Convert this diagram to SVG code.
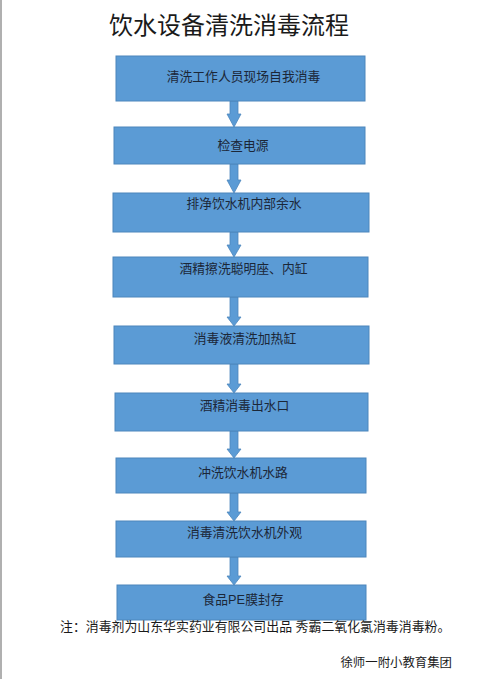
<svg xmlns="http://www.w3.org/2000/svg" width="500" height="679" viewBox="0 0 500 679">
<style>
.box{fill:#5B9BD5;stroke:#4C86BC;stroke-width:1}
.lbl{font-family:"Liberation Sans","Noto Sans CJK SC",sans-serif;font-size:12.8px;fill:#1B2738;text-anchor:middle;dominant-baseline:central}
.arr{fill:#5B9BD5;stroke:#4C86BC;stroke-width:0.8}
.note{font-family:"Liberation Sans","Noto Sans CJK SC",sans-serif;font-size:12.4px;fill:#1a1a1a}
</style>
<rect width="500" height="679" fill="#ffffff"/>
<line x1="1" y1="0" x2="1" y2="679" stroke="#b0b0b0" stroke-width="2"/>
<text x="229" y="23" font-family="'Noto Sans CJK SC',sans-serif" font-size="24" fill="#1a1a1a" text-anchor="middle" dominant-baseline="central">饮水设备清洗消毒流程</text>
<g id="connectors">
<path class="arr" d="M230,101 H238 V114 H241 L234,127 L227,114 H230 Z"/>
<path class="arr" d="M230,164 H238 V180 H241 L234,193 L227,180 H230 Z"/>
<path class="arr" d="M230,232 H238 V245 H241 L234,257 L227,245 H230 Z"/>
<path class="arr" d="M230,297 H238 V317 H241 L234,326 L227,317 H230 Z"/>
<path class="arr" d="M230,364 H238 V384 H241 L234,393 L227,384 H230 Z"/>
<path class="arr" d="M230,431 H238 V449 H241 L234,458 L227,449 H230 Z"/>
<path class="arr" d="M230,493 H238 V512 H241 L234,521 L227,512 H230 Z"/>
<path class="arr" d="M230,557 H238 V576 H241 L234,585 L227,576 H230 Z"/>
</g>
<g id="n1"><rect class="box" x="116" y="56" width="249" height="45"/><text class="lbl" x="243.5" y="76">清洗工作人员现场自我消毒</text></g>
<g id="n2"><rect class="box" x="114" y="127" width="251" height="37"/><text class="lbl" x="243" y="145">检查电源</text></g>
<g id="n3"><rect class="box" x="113" y="193" width="256" height="39"/><text class="lbl" x="244" y="203">排净饮水机内部余水</text></g>
<g id="n4"><rect class="box" x="113" y="257" width="255" height="40"/><text class="lbl" x="243.5" y="268">酒精擦洗聪明座、内缸</text></g>
<g id="n5"><rect class="box" x="114" y="326" width="255" height="38"/><text class="lbl" x="245" y="338">消毒液清洗加热缸</text></g>
<g id="n6"><rect class="box" x="115" y="393" width="253" height="38"/><text class="lbl" x="244.5" y="405">酒精消毒出水口</text></g>
<g id="n7"><rect class="box" x="116" y="458" width="250" height="35"/><text class="lbl" x="243" y="472">冲洗饮水机水路</text></g>
<g id="n8"><rect class="box" x="116" y="521" width="250" height="36"/><text class="lbl" x="244.5" y="532">消毒清洗饮水机外观</text></g>
<g id="n9"><rect class="box" x="117" y="585" width="249" height="35"/><text class="lbl" x="243" y="599">食品PE膜封存</text></g>
<text class="note" x="60" y="626" font-size="12.9" style="font-size:12.9px" dominant-baseline="central">注：消毒剂为山东华实药业有限公司出品 秀霸二氧化氯消毒消毒粉。</text>
<text class="note" x="452" y="663" text-anchor="end" dominant-baseline="central">徐师一附小教育集团</text>
</svg>
